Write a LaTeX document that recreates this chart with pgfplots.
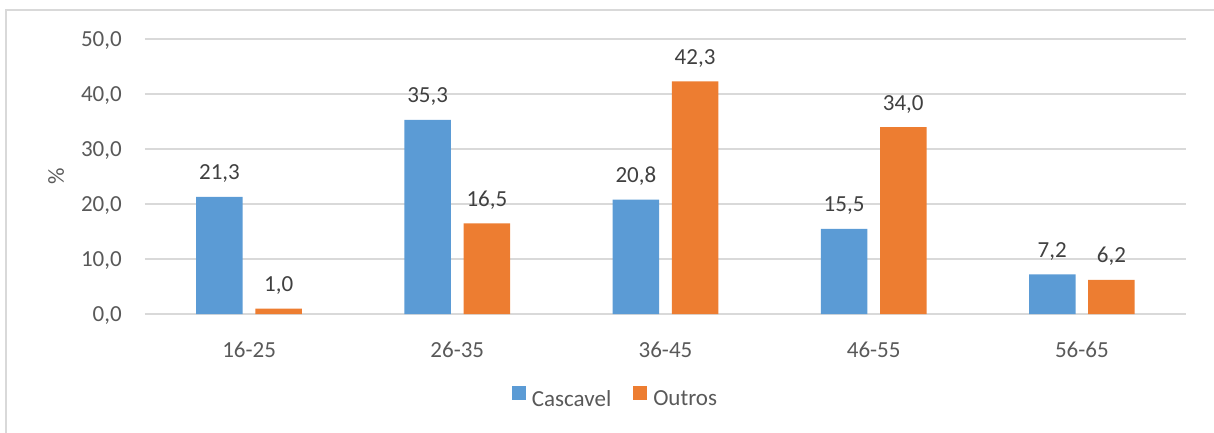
\documentclass[border=0pt]{standalone}
\usepackage{pgfplots}
\pgfplotsset{compat=1.18}
\usepackage{fontspec}
\setmainfont{Carlito}
\definecolor{cblue}{HTML}{5B9BD5}
\definecolor{corange}{HTML}{ED7D31}
\definecolor{gridc}{HTML}{D9D9D9}
\definecolor{ticktext}{HTML}{595959}
\definecolor{labtext}{HTML}{404040}
\begin{document}
\fontsize{23pt}{27pt}\selectfont
\begin{tikzpicture}
\useasboundingbox (-145pt,-119pt) rectangle (1069pt,314pt);
\draw[gridc, line width=1.5pt] (-139pt,-130pt) -- (-139pt,304pt) -- (1080pt,304pt);
\begin{axis}[
  at={(0pt,0pt)}, anchor=south west,
  scale only axis, width=1041pt, height=275pt,
  ybar, bar width=46.5pt,
  xmin=-0.5, xmax=4.5, ymin=0, ymax=50,
  xtick={0,1,2,3,4},
  xticklabels={16-25,26-35,36-45,46-55,56-65},
  ytick={0,10,20,30,40,50},
  axis line style={draw=none},
  tick style={draw=none},
  xmajorgrids=false, ymajorgrids=true,
  major x grid style={draw=none},
  major y grid style={gridc, line width=1.5pt},
  /pgf/number format/use comma,
  /pgf/number format/fixed,
  /pgf/number format/fixed zerofill,
  /pgf/number format/precision=1,
  /pgf/number format/assume math mode=true,
  font=\fontsize{23pt}{27pt}\selectfont,
  xticklabel style={font=\fontsize{23pt}{27pt}\selectfont, text=ticktext, anchor=base, inner sep=0pt, yshift=-39pt},
  yticklabel style={font=\fontsize{23pt}{27pt}\selectfont, text=ticktext, anchor=base east, inner sep=0pt, xshift=-23pt, yshift=-7pt},
  ylabel={\%},
  ylabel style={at={(axis description cs:-0.0855,0.5)}, anchor=center, text=ticktext, font=\fontsize{23pt}{27pt}\selectfont},
  nodes near coords,
  every node near coord/.append style={font=\fontsize{23pt}{27pt}\selectfont, text=labtext, anchor=base, inner sep=0pt, yshift=17pt},
  legend columns=2,
  legend style={at={(0.451,-0.3055)}, anchor=center, draw=none, fill=none,
    font=\fontsize{23pt}{27pt}\selectfont, text=ticktext,
    nodes={inner sep=0pt},
    /tikz/every odd column/.style={column sep=6pt},
    /tikz/every even column/.style={column sep=22pt}},
]
\addplot[fill=cblue, draw=none, bar shift=-29.6pt,
  legend image code/.code={\fill[cblue] (0pt,0pt) rectangle (14pt,14pt);}]
  coordinates {(0,21.3) (1,35.3) (2,20.8) (3,15.5) (4,7.2)};
\addlegendentry{Cascavel}
\addplot[fill=corange, draw=none, bar shift=29.6pt,
  legend image code/.code={\fill[corange] (0pt,0pt) rectangle (14pt,14pt);}]
  coordinates {(0,1.0) (1,16.5) (2,42.3) (3,34.0) (4,6.2)};
\addlegendentry{Outros}
\end{axis}
\end{tikzpicture}
\end{document}
